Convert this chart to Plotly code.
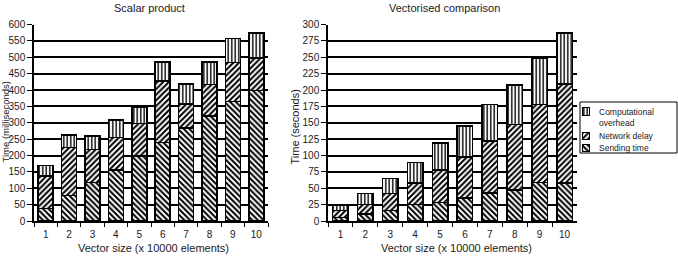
import plotly.graph_objects as go

# ---------------- data ----------------
VECTOR_SIZES = ["1", "2", "3", "4", "5", "6", "7", "8", "9", "10"]
SERIES = ["Sending time", "Network delay", "Computational overhead"]

# Scalar product (milliseconds), stacked segments bottom -> top
SCALAR_SEND = [38, 78, 117, 156, 199, 240, 284, 321, 365, 399]
SCALAR_NET = [100, 147, 101, 99, 98, 188, 73, 96, 119, 98]
SCALAR_COMP = [32, 37, 41, 53, 51, 57, 61, 69, 74, 77]

# Vectorised comparison (seconds)
VEC_SEND = [5, 11, 16, 25, 28, 35, 43, 47, 59, 58]
VEC_NET = [11, 14, 26, 33, 50, 63, 79, 100, 119, 151]
VEC_COMP = [8, 17, 23, 31, 41, 47, 56, 61, 70, 78]

LEFT_TICKS = [0, 50, 100, 150, 200, 250, 300, 350, 400, 450, 500, 550, 600]
RIGHT_TICKS = [0, 25, 50, 75, 100, 125, 150, 175, 200, 225, 250, 275, 300]

LEGEND_SLOTS = ["Computational overhead", " ", "Network delay", "Sending time"]
LEGEND_LABELS = {"Computational overhead": "Computational<br>overhead",
                 "Network delay": "Network delay",
                 "Sending time": "Sending time"}

# ---------------- styling ----------------
W, H = 678, 260
FONT = "Liberation Sans, Arial, sans-serif"
TXT = "#1a1a1a"
PATTERN = {"Sending time": ("\\", 4, 0.5), "Network delay": ("/", 4, 0.5),
           "Computational overhead": ("|", 3.5, 0.4)}


def px(x):
    return x / W


def py(y):
    return 1 - y / H


def marker(name, lw=1.5):
    shape, size, sol = PATTERN[name]
    return dict(color="white", line=dict(color="black", width=lw),
                pattern=dict(shape=shape, fgcolor="black", bgcolor="white",
                             size=size, solidity=sol))


fig = go.Figure()

left = {"Sending time": SCALAR_SEND, "Network delay": SCALAR_NET, "Computational overhead": SCALAR_COMP}
right = {"Sending time": VEC_SEND, "Network delay": VEC_NET, "Computational overhead": VEC_COMP}

for name in SERIES:
    fig.add_trace(go.Bar(x=VECTOR_SIZES, y=left[name], name=name, marker=marker(name),
                         width=0.64, xaxis="x", yaxis="y", showlegend=False))
for name in SERIES:
    fig.add_trace(go.Bar(x=VECTOR_SIZES, y=right[name], name=name, marker=marker(name),
                         width=0.62, xaxis="x2", yaxis="y2", showlegend=False))

# legend swatches drawn on a tiny helper axis
for name in SERIES:
    fig.add_trace(go.Bar(y=[name], x=[1], orientation="h", marker=marker(name, 1.2),
                         width=0.62, xaxis="x3", yaxis="y3", showlegend=False,
                         hoverinfo="skip"))

ydom = [py(221), py(24.5)]
axis_common = dict(showline=True, linecolor="black", linewidth=1.5, ticks="outside",
                   automargin=False, tickcolor="black", tickwidth=1.2,
                   tickfont=dict(size=10, color=TXT, family=FONT))

fig.update_layout(
    template="none",
    width=W, height=H, margin=dict(l=0, r=0, t=0, b=0, pad=0), autosize=False,
    paper_bgcolor="white", plot_bgcolor="white",
    barmode="stack", showlegend=False,
    font=dict(family=FONT, color=TXT, size=11),
    xaxis=dict(domain=[px(34), px(268)], anchor="y", type="category", tickson="boundaries",
               ticklen=4, ticklabelstandoff=3, showgrid=False, **axis_common),
    yaxis=dict(domain=ydom, anchor="x", range=[0, 600], tickvals=LEFT_TICKS, ticklen=5,
               showgrid=True, gridcolor="black", gridwidth=1.5, zeroline=False, **axis_common),
    xaxis2=dict(domain=[px(328), px(577)], anchor="y2", type="category", tickson="boundaries",
                ticklen=4, ticklabelstandoff=3, showgrid=False, **axis_common),
    yaxis2=dict(domain=ydom, anchor="x2", range=[0, 300], tickvals=RIGHT_TICKS, ticklen=5,
                showgrid=True, gridcolor="black", gridwidth=1.5, zeroline=False, **axis_common),
    xaxis3=dict(domain=[px(582), px(590)], anchor="y3", range=[0, 1], visible=False,
                automargin=False),
    yaxis3=dict(domain=[py(154.2), py(105.4)], anchor="x3", type="category",
                categoryorder="array", categoryarray=LEGEND_SLOTS,
                range=[3.5, -0.5], visible=False, automargin=False),
)

ann = [
    dict(text="Scalar product", x=px(149), y=py(8), size=11),
    dict(text="Vectorised comparison", x=px(444), y=py(8), size=11),
    dict(text="Vector size (x 10000 elements)", x=px(153.5), y=py(248), size=11),
    dict(text="Vector size (x 10000 elements)", x=px(456.5), y=py(248), size=11),
    dict(text="Time (milliseconds)", x=px(5), y=py(122.5), textangle=-90, size=9.5),
    dict(text="Time (seconds)", x=px(294.5), y=py(127), textangle=-90, size=11),
]
for a in ann:
    size = a.pop("size")
    fig.add_annotation(xref="paper", yref="paper", showarrow=False, xanchor="center",
                       yanchor="middle", font=dict(size=size, color=TXT, family=FONT), **a)

# legend texts
fig.add_annotation(xref="paper", yref="y3", x=px(597), y=0.5, text=LEGEND_LABELS["Computational overhead"],
                   showarrow=False, xanchor="left", yanchor="middle", align="left",
                   font=dict(size=8.5, color=TXT, family=FONT))
for name in ["Network delay", "Sending time"]:
    fig.add_annotation(xref="paper", yref="y3", x=px(597), y=name, text=LEGEND_LABELS[name],
                       showarrow=False, xanchor="left", yanchor="middle",
                       font=dict(size=8.5, color=TXT, family=FONT))

fig.add_shape(type="rect", xref="paper", yref="paper", x0=px(580), x1=px(677),
              y0=py(153), y1=py(102), line=dict(color="black", width=1))

fig.write_html("out.html")
